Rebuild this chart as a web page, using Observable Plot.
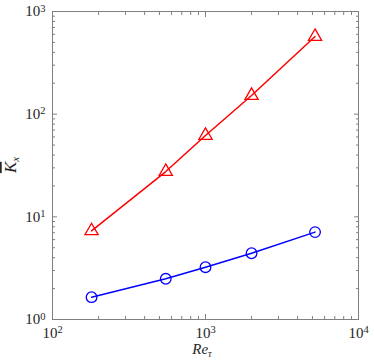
<!DOCTYPE html>
<html><head><meta charset="utf-8">
<script src="https://cdn.jsdelivr.net/npm/d3@7"></script>
<script src="https://cdn.jsdelivr.net/npm/@observablehq/plot@0.6"></script>
<style>body{margin:0;background:#fff}</style>
</head><body><div id="chart"></div>
<script>
const reTau = [180, 550, 1000, 2000, 5200];
const kCircle = [1.65, 2.49, 3.23, 4.42, 7.1];
const kTriangle = [7.3, 27.6, 62, 152, 570];
const xMajor = [100, 1000, 10000];
const yMajor = [1, 10, 100, 1000];
const minorFactors = [2, 3, 4, 5, 6, 7, 8, 9];

const xMinor = xMajor.slice(0, -1).flatMap(d => minorFactors.map(f => d * f));
const yMinor = yMajor.slice(0, -1).flatMap(d => minorFactors.map(f => d * f));
const fmt = d => "10^" + Math.round(Math.log10(d));

const circles = reTau.map((x, i) => ({x, y: kCircle[i]}));
const triangles = reTau.map((x, i) => ({x, y: kTriangle[i]}));

const gray = "#808080";
const ink = "#262626";
const serif = "'Liberation Serif', 'DejaVu Serif', serif";

const plot = Plot.plot({
  width: 374, height: 361,
  marginLeft: 52, marginRight: 16, marginTop: 11, marginBottom: 42,
  style: {fontFamily: serif, fontSize: "14px", background: "#fff"},
  x: {type: "log", domain: [100, 10000]},
  y: {type: "log", domain: [1, 1000]},
  marks: [
    Plot.frame({stroke: gray}),
    // inward ticks on all four sides
    Plot.axisX({ticks: xMajor, anchor: "bottom", tickSize: -5, fill: "none", stroke: gray, label: null}),
    Plot.axisX({ticks: xMinor, anchor: "bottom", tickSize: -3, fill: "none", stroke: gray, label: null}),
    Plot.axisX({ticks: xMajor, anchor: "top", tickSize: -5, fill: "none", stroke: gray, label: null}),
    Plot.axisX({ticks: xMinor, anchor: "top", tickSize: -3, fill: "none", stroke: gray, label: null}),
    Plot.axisY({ticks: yMajor, anchor: "left", tickSize: -5, fill: "none", stroke: gray, label: null}),
    Plot.axisY({ticks: yMinor, anchor: "left", tickSize: -3, fill: "none", stroke: gray, label: null}),
    Plot.axisY({ticks: yMajor, anchor: "right", tickSize: -5, fill: "none", stroke: gray, label: null}),
    Plot.axisY({ticks: yMinor, anchor: "right", tickSize: -3, fill: "none", stroke: gray, label: null}),
    // labels
    Plot.axisX({ticks: xMajor, anchor: "bottom", tickSize: 0, tickPadding: 8, tickFormat: fmt, fill: ink, label: null}),
    Plot.axisY({ticks: yMajor, anchor: "left", tickSize: 0, tickPadding: 7, tickFormat: fmt, fill: ink, label: null}),
    // data
    Plot.line(triangles, {x: "x", y: "y", stroke: "#ff0000", strokeWidth: 1.5}),
    Plot.dot(triangles, {x: "x", y: "y", symbol: "triangle", r: 4.9, stroke: "#ff0000", strokeWidth: 1.3, fill: "none"}),
    Plot.line(circles, {x: "x", y: "y", stroke: "#0000ff", strokeWidth: 1.5}),
    Plot.dot(circles, {x: "x", y: "y", symbol: "circle", r: 5.3, stroke: "#0000ff", strokeWidth: 1.3, fill: "none"})
  ]
});

const svg = d3.select(plot);
// turn "10^k" labels into 10 with a raised exponent
svg.selectAll('g[aria-label="x-axis tick label"], g[aria-label="y-axis tick label"]')
  .attr("font-size", null).style("font-size", "15px").style("font-family", serif);
svg.selectAll('g[aria-label="x-axis tick label"] text, g[aria-label="y-axis tick label"] text').each(function () {
  const t = this.textContent;
  if (!t.includes("^")) return;
  const [base, exp] = t.split("^");
  const el = d3.select(this);
  el.text(null).style("font-size", "15px");
  el.append("tspan").text(base);
  el.append("tspan").attr("dy", "-0.45em").style("font-size", "10.5px").text(exp);
});

const xs = plot.scale("x"), ys = plot.scale("y");
// x label
const xl = svg.append("text")
  .attr("x", xs.apply(1000) - 3).attr("y", 354)
  .attr("text-anchor", "middle")
  .attr("fill", ink)
  .style("font-family", serif)
  .style("font-size", "15px").style("font-style", "italic");
xl.append("tspan").text("Re");
xl.append("tspan").attr("dy", 3).style("font-size", "10px").text("τ");
// y label
const yl = svg.append("text")
  .attr("transform", `translate(16,${(ys.apply(1) + ys.apply(1000)) / 2}) rotate(-90)`)
  .attr("text-anchor", "middle")
  .attr("fill", ink)
  .style("font-family", serif)
  .style("font-size", "17px").style("font-style", "italic");
yl.append("tspan").style("text-decoration", "overline").text("K");
yl.append("tspan").attr("dy", 3).style("font-size", "11px").text("x");

document.getElementById("chart").appendChild(plot);
</script>
</body></html>
